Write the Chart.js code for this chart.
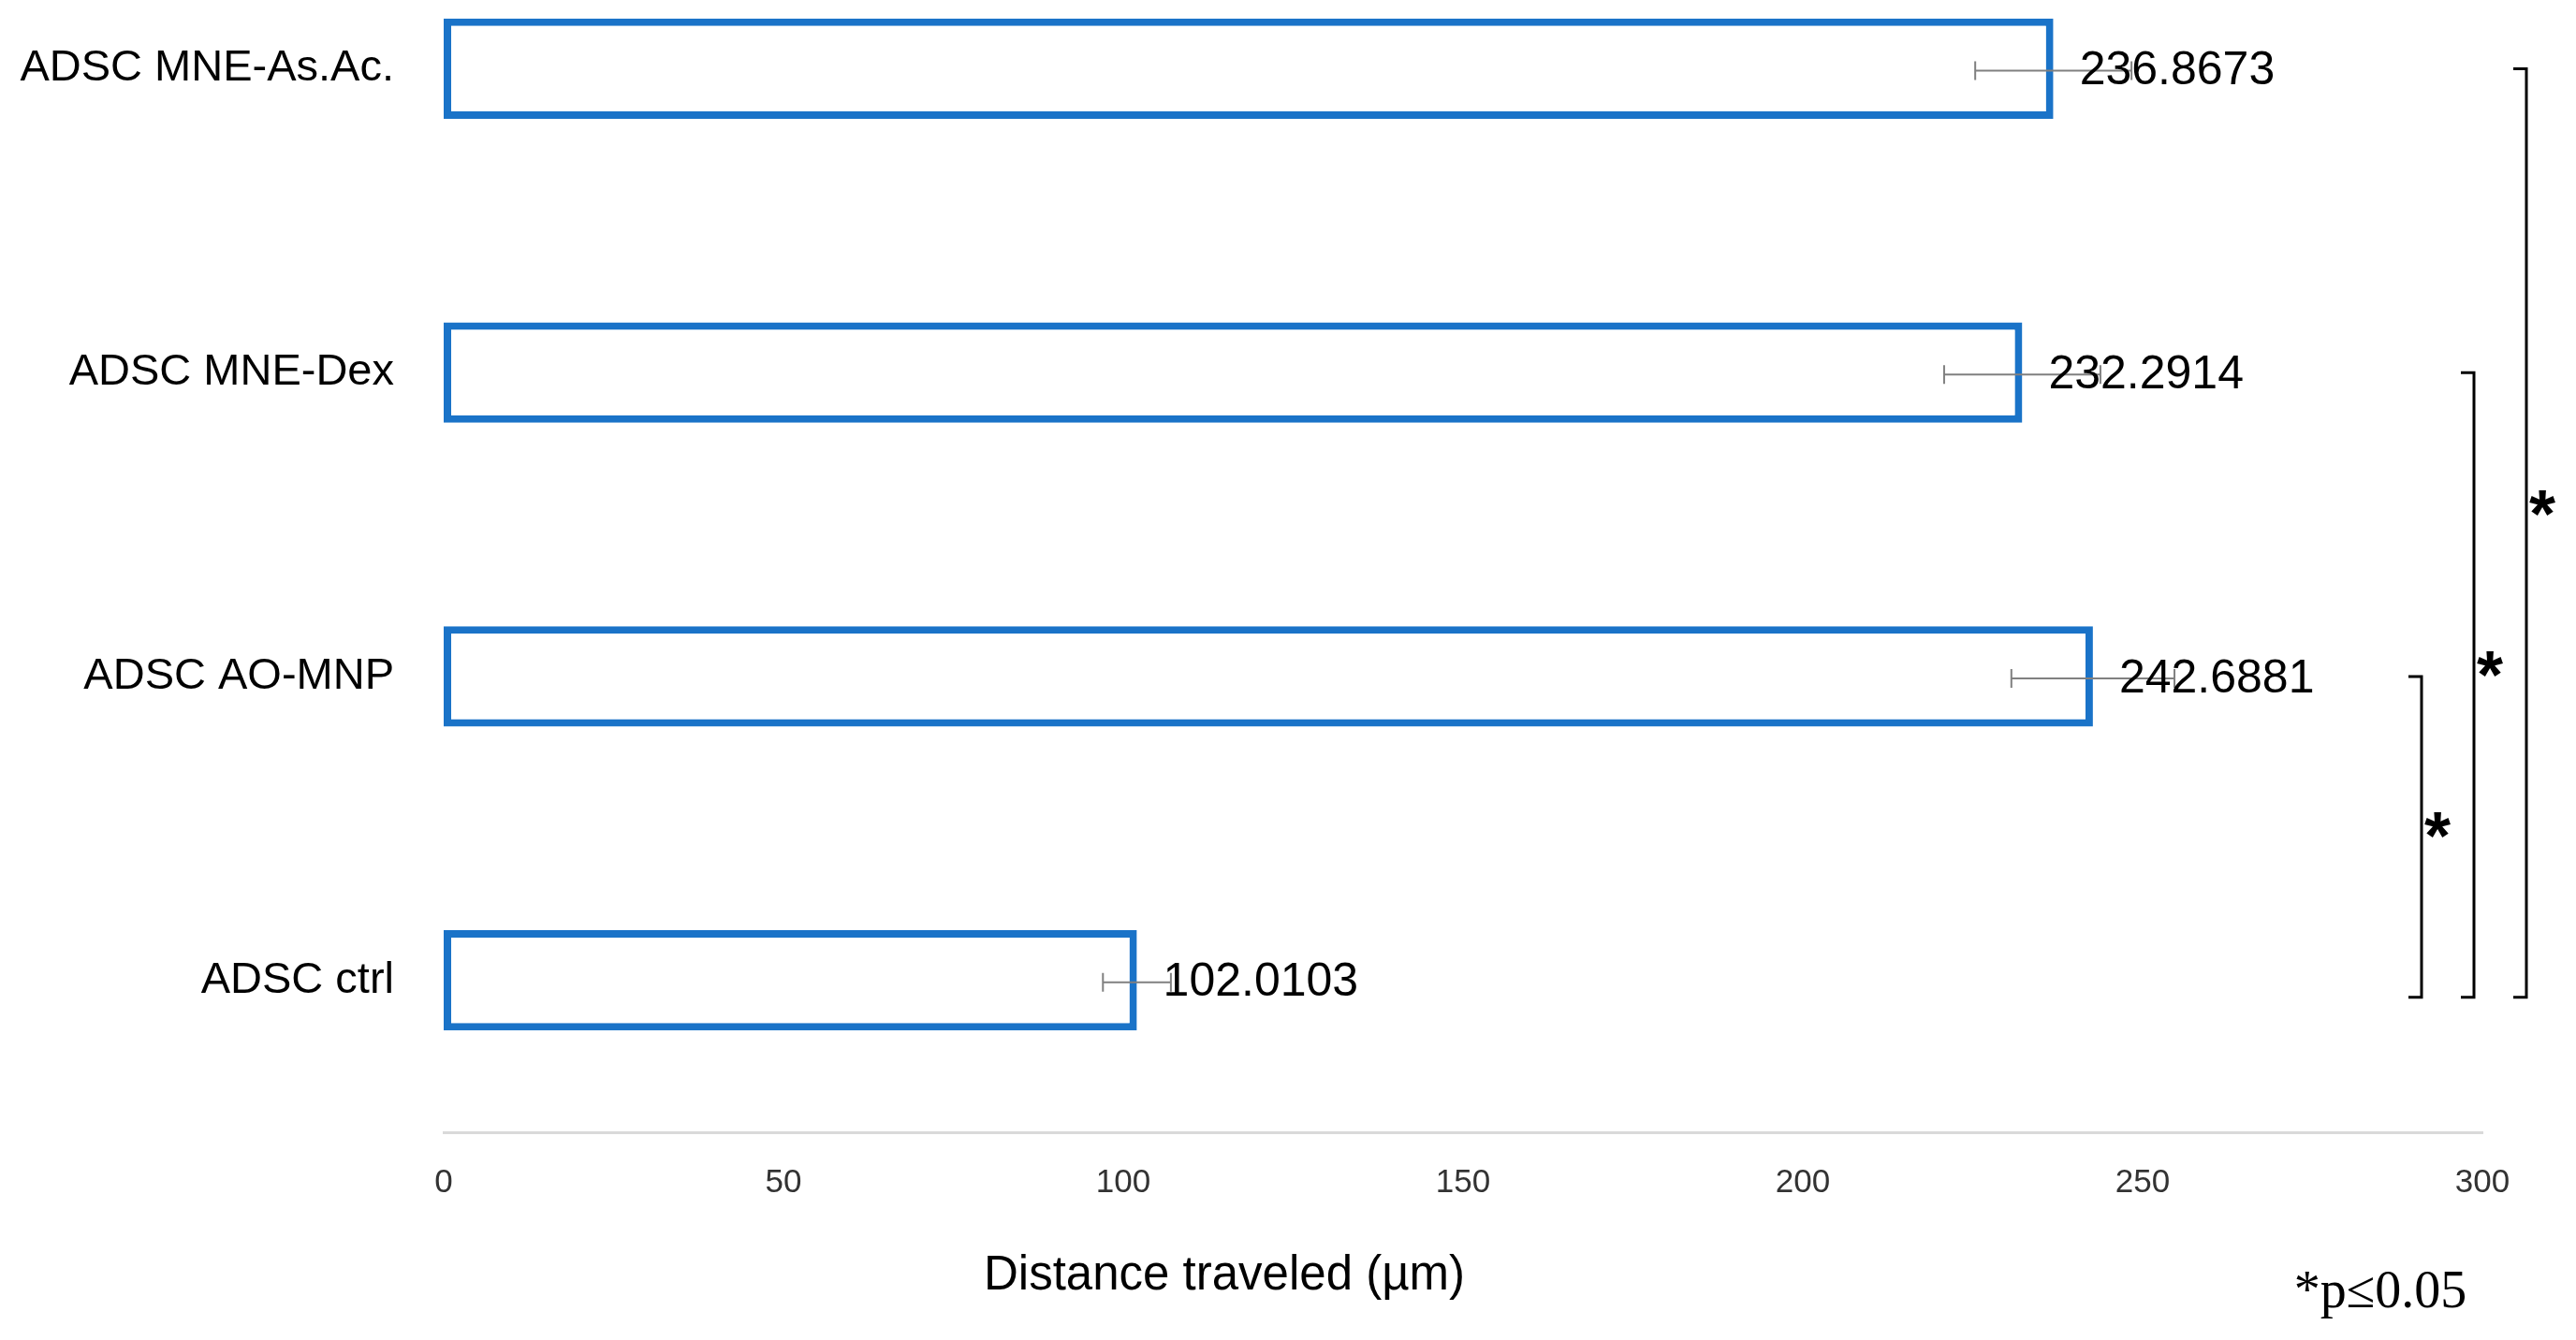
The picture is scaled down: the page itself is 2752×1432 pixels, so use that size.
<!DOCTYPE html>
<html>
<head>
<meta charset="utf-8">
<script src="https://cdn.jsdelivr.net/npm/chart.js@4.4.1/dist/chart.umd.min.js"></script>
<style>
    html, body { margin: 0; padding: 0; background: #fff; overflow: hidden; }
    /* the picture is cropped at the top, so the canvas starts above the window */
    #wrap { position: absolute; left: 0; top: -89px; width: 2752px; height: 1521px; }
</style>
</head>
<body>
<div id="wrap"><canvas id="distChart"></canvas></div>
<script>
const groups = ['ADSC MNE-As.Ac.', 'ADSC MNE-Dex', 'ADSC AO-MNP', 'ADSC ctrl']
const distances = [236.8673, 232.2914, 242.6881, 102.0103]
const errors = [11.5, 11.5, 12, 5]
const xTicks = [0, 50, 100, 150, 200, 250, 300]
// pairs marked significant (bracket + star)
const sigPairs = [
    ['ADSC AO-MNP', 'ADSC ctrl'],
    ['ADSC MNE-Dex', 'ADSC ctrl'],
    ['ADSC MNE-As.Ac.', 'ADSC ctrl']
]
const axisTitle = 'Distance traveled (µm)'
const pNote = '*p≤0.05'

const sans = "'Liberation Sans', Arial, sans-serif"
const serif = "'Liberation Serif', 'Times New Roman', serif"
const shiftY = 89 // canvas offset above the window

const extras = {
    id: 'extras',
    afterDatasetsDraw(chart) {
        const ctx = chart.ctx
        const xs = chart.scales.x
        const ys = chart.scales.y
        const area = chart.chartArea
        const meta = chart.getDatasetMeta(0)

        // error bars
        ctx.save()
        ctx.strokeStyle = '#808080'
        ctx.lineWidth = 2
        meta.data.forEach((bar, i) => {
            const y = bar.y + 2
            const x1 = xs.getPixelForValue(distances[i] - errors[i])
            const x2 = xs.getPixelForValue(distances[i] + errors[i])
            ctx.beginPath()
            ctx.moveTo(x1, y); ctx.lineTo(x2, y)
            ctx.moveTo(x1, y - 10); ctx.lineTo(x1, y + 10)
            ctx.moveTo(x2, y - 10); ctx.lineTo(x2, y + 10)
            ctx.stroke()
        })
        ctx.restore()

        // value labels
        ctx.save()
        ctx.fillStyle = '#000'
        ctx.font = '50px ' + sans
        ctx.textBaseline = 'middle'
        ctx.textAlign = 'left'
        meta.data.forEach((bar, i) => {
            ctx.fillText(distances[i].toFixed(4), bar.x + 28, bar.y + 3)
        })
        ctx.restore()

        // significance brackets
        ctx.save()
        ctx.strokeStyle = '#000'
        ctx.fillStyle = '#000'
        ctx.lineWidth = 3
        ctx.font = 'bold 72px ' + sans
        ctx.textAlign = 'center'
        ctx.textBaseline = 'middle'
        sigPairs.forEach((pair, i) => {
            const yTop = ys.getPixelForValue(groups.indexOf(pair[0]))
            const yBot = ys.getPixelForValue(groups.indexOf(pair[1])) + 18
            const x = area.right - 65 + i * 56
            ctx.beginPath()
            ctx.moveTo(x - 14, yTop); ctx.lineTo(x, yTop)
            ctx.lineTo(x, yBot); ctx.lineTo(x - 14, yBot)
            ctx.stroke()
            ctx.fillText('*', x + 17, yTop + (yBot - yTop) * 0.47 + 14)
        })
        ctx.restore()

        // axis title and p note
        ctx.save()
        ctx.fillStyle = '#000'
        ctx.textAlign = 'center'
        ctx.textBaseline = 'alphabetic'
        ctx.font = '51px ' + sans
        ctx.fillText(axisTitle, 1308, 1378 + shiftY)
        ctx.font = '56px ' + serif
        ctx.fillText(pNote, 2543, 1397 + shiftY)
        ctx.restore()
    }
}

const data = {
    labels: groups,
    datasets: [{
        data: distances,
        backgroundColor: '#ffffff',
        borderColor: '#1a73c8',
        borderWidth: 8,
        borderSkipped: false,
        barPercentage: 0.33,
        categoryPercentage: 1
    }]
}

const config = {
    type: 'bar',
    data: data,
    plugins: [extras],
    options: {
        indexAxis: 'y',
        responsive: true,
        maintainAspectRatio: false,
        animation: false,
        layout: { padding: { left: 0, right: 100, top: 0, bottom: 0 } },
        plugins: {
            legend: { display: false },
            tooltip: { enabled: false }
        },
        scales: {
            x: {
                type: 'linear',
                min: 0,
                max: 300,
                afterBuildTicks: scale => { scale.ticks = xTicks.map(v => ({ value: v })) },
                grid: { display: false, drawTicks: false },
                border: { display: true, color: '#d9d9d9', width: 3 },
                ticks: { padding: 33, color: '#333', maxRotation: 0, font: { family: sans, size: 35 } },
                afterFit: scale => { scale.height = 222 }
            },
            y: {
                grid: { display: false, drawTicks: false },
                border: { display: false },
                ticks: { padding: 53, color: '#000', font: { family: sans, size: 47 } },
                afterFit: scale => {
                    scale.width = 474
                    // keep the label padding from pushing the plot area down
                    scale.paddingTop = 0
                    scale.paddingBottom = 0
                }
            }
        }
    }
}

const distChart = new Chart(document.getElementById('distChart'), config)
</script>
</body>
</html>
